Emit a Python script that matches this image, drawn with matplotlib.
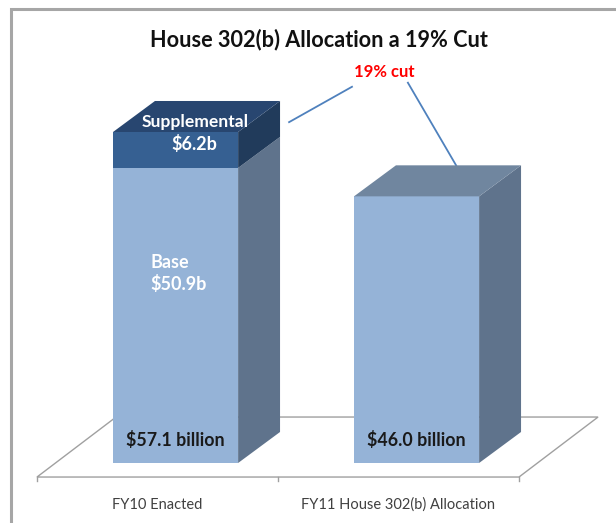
import matplotlib.pyplot as plt
from matplotlib.patches import Polygon
from matplotlib.lines import Line2D

plt.rcParams['font.family'] = ['Lato', 'DejaVu Sans']

# data (billions)
categories = ['FY10 Enacted', 'FY11 House 302(b) Allocation']
base = [50.9, 46.0]
supplemental = [6.2, 0.0]
totals = [57.1, 46.0]
total_labels = ['$57.1 billion', '$46.0 billion']

# 3D look parameters
W, BX = 0.519, 0.075          # bar front width and shift from category centre
DX, DY = 0.174, 5.35          # bar depth offset
FDX, FDY, FY = 0.328, 10.35, -2.42   # floor depth offset and front edge level

c_base = ('#95b3d7', '#5f738c', '#70869f')   # front, side, top
c_supp = ('#366092', '#213b5b', '#284670')

fig = plt.figure(figsize=(6.16, 5.23), dpi=100)
ax = fig.add_axes([0, 0, 1, 1])
ax.set_xlim(-0.6535, 1.9025)
ax.set_ylim(-10.35, 79.87)
ax.axis('off')

# outer frame (left and top edges only are inside the picture)
fx, fy = 11 / 616, 1 - 9 / 523
fig.lines.append(Line2D([fx, fx, 1.0], [0.0, fy, fy], transform=fig.transFigure,
                        color='#a6a6a6', lw=2.2, solid_joinstyle='miter'))

# floor
n = len(categories)
x0, x1 = -0.5, n - 0.5
floor = Polygon([(x0, FY), (x1, FY), (x1 + FDX, FY + FDY), (x0 + FDX, FY + FDY)],
                closed=True, fc='white', ec='#a0a0a0', lw=1.0, zorder=1)
ax.add_patch(floor)
for t in range(n + 1):
    ax.plot([x0 + t, x0 + t], [FY, FY - 0.7], color='#a0a0a0', lw=1.0, zorder=1)


def box(xc, bottom, top, cols, draw_top):
    xl, xr = xc + BX - W / 2, xc + BX + W / 2
    ax.bar(xc + BX, top - bottom, bottom=bottom, width=W, color=cols[0], zorder=3)
    ax.add_patch(Polygon([(xr, bottom), (xr + DX, bottom + DY), (xr + DX, top + DY), (xr, top)],
                         closed=True, fc=cols[1], ec='none', zorder=3))
    if draw_top:
        ax.add_patch(Polygon([(xl, top), (xl + DX, top + DY), (xr + DX, top + DY), (xr, top)],
                             closed=True, fc=cols[2], ec='none', zorder=3))


for i in range(n):
    box(i, 0, base[i], c_base, supplemental[i] == 0)
    if supplemental[i] > 0:
        box(i, base[i], base[i] + supplemental[i], c_supp, True)
    ax.text(i + BX, 3.9, total_labels[i], ha='center', va='center',
            fontsize=12.8, fontweight='bold', color='#1a1a1a', zorder=4)
    ax.text(i, FY - 4.75, categories[i], ha='center', va='center',
            fontsize=10.5, color='#404040')

# segment labels on the first bar
ax.text(0.155, totals[0] + 1.7, 'Supplemental', ha='center', va='center',
        fontsize=12.6, fontweight='bold', color='white', zorder=5)
ax.text(0.153, totals[0] - 2.1, f'${supplemental[0]}b', ha='center', va='center',
        fontsize=13, fontweight='bold', color='white', zorder=5)
ax.text(-0.03, base[0] - 18.2, f'Base\n${base[0]}b', ha='left', va='center',
        fontsize=13, fontweight='bold', color='white', linespacing=1.3, zorder=5)

# "19% cut" callout
cut_x, cut_y = 0.94, 67.4
ax.text(cut_x, cut_y, '19% cut', ha='center', va='center',
        fontsize=12, fontweight='bold', color='#ff0000')
ax.plot([0.546, 0.807], [totals[0] + 1.7, cut_y - 2.5], color='#4f81bd', lw=1.3)
ax.plot([1.039, 1.239], [cut_y - 1.8, totals[1] + DY], color='#4f81bd', lw=1.3)

fig.text(319 / 616, 1 - 40 / 523, 'House 302(b) Allocation a 19% Cut',
         ha='center', va='center', fontsize=15.6, fontweight='bold', color='#111111')

fig.savefig('out.png', dpi=100)
